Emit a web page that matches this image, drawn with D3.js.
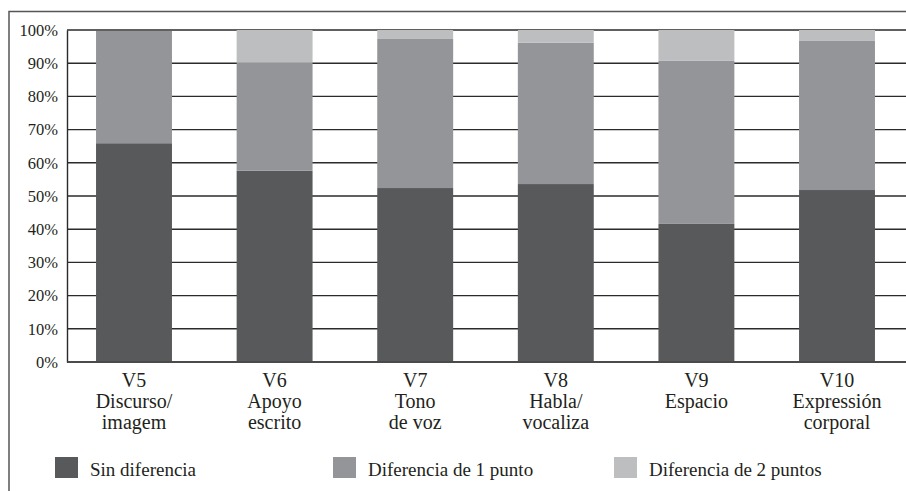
<!DOCTYPE html>
<meta charset="utf-8">
<style>
body { margin: 0; background: #fff; }
svg text { fill: #231f20; font-family: "Liberation Serif", "DejaVu Serif", serif; }
.grid line { stroke: #2b2b2b; stroke-width: 1.4px; }
</style>
<body>
<script src="https://d3js.org/d3.v7.min.js"></script>
<script>

var codes = ["V5", "V6", "V7", "V8", "V9", "V10"]
var names = [["Discurso/", "imagem"], ["Apoyo", "escrito"], ["Tono", "de voz"],
             ["Habla/", "vocaliza"], ["Espacio"], ["Expressión", "corporal"]]
var sinDif = [65.9, 57.6, 52.4, 53.6, 41.6, 51.8]
var dif1 = [33.8, 32.6, 44.9, 42.6, 49.1, 44.9]
var dif2 = [0, 9.8, 2.7, 3.8, 9.3, 3.3]
var seriesNames = ["Sin diferencia", "Diferencia de 1 punto", "Diferencia de 2 puntos"]
var colors = ["#58595b", "#939598", "#bcbec0"]
var yTicks = [0, 10, 20, 30, 40, 50, 60, 70, 80, 90, 100]

var width = 906, height = 491

var svg = d3.select("body").append("svg")
    .attr("width", width)
    .attr("height", height)

// outer frame (top and left only)
svg.append("path")
    .attr("d", "M9,491V11.5H906")
    .attr("fill", "none")
    .attr("stroke", "#555")
    .attr("stroke-width", 1.5)

var x = d3.scaleBand().domain(codes).range([63.7, 907.3]).paddingInner(0.46).paddingOuter(0.23)
var y = d3.scaleLinear().domain([0, 100]).range([362, 30])

// gridlines
svg.append("g").attr("class", "grid")
  .selectAll("line")
  .data(yTicks)
  .enter().append("line")
    .attr("x1", 67).attr("x2", width)
    .attr("y1", d => y(d)).attr("y2", d => y(d))

var rows = codes.map(function(c, i) {
  return {code: c, s0: sinDif[i], s1: dif1[i], s2: dif2[i]}
})
var stack = d3.stack().keys(["s0", "s1", "s2"])(rows)

svg.append("g").selectAll("g")
  .data(stack)
  .enter().append("g")
    .attr("fill", (d, i) => colors[i])
  .selectAll("rect")
  .data(d => d)
  .enter().append("rect")
    .attr("x", d => x(d.data.code))
    .attr("width", x.bandwidth())
    .attr("y", d => y(d[1]))
    .attr("height", d => y(d[0]) - y(d[1]))

// y axis
var yAxis = svg.append("g")
    .attr("transform", "translate(67,0)")
    .call(d3.axisLeft(y).tickValues(yTicks).tickSize(0).tickPadding(9).tickFormat(d => d + "%"))
yAxis.attr("font-family", null).attr("font-size", null)
yAxis.selectAll("text").style("font-size", "16.5px")
yAxis.select(".domain").attr("stroke", "#2b2b2b").attr("stroke-width", 1.4)

// x axis line
svg.append("line")
    .attr("x1", 67).attr("x2", width)
    .attr("y1", y(0)).attr("y2", y(0))
    .attr("stroke", "#444").attr("stroke-width", 1.6)

// category labels
var cat = svg.append("g").selectAll("text")
  .data(codes)
  .enter().append("text")
    .style("font-size", "20px")
    .attr("text-anchor", "middle")
    .attr("x", d => x(d) + x.bandwidth() / 2)
    .attr("y", 387)
cat.each(function(d, i) {
  var t = d3.select(this)
  var lines = [d].concat(names[i])
  lines.forEach(function(l, j) {
    t.append("tspan")
      .attr("x", x(d) + x.bandwidth() / 2)
      .attr("y", 387 + j * 21)
      .text(l)
  })
})

// legend
var legX = [55, 333, 614]
var leg = svg.append("g")
  .selectAll("g")
  .data(seriesNames)
  .enter().append("g")
    .attr("transform", (d, i) => "translate(" + legX[i] + ",457)")
leg.append("rect")
    .attr("width", 23).attr("height", 21)
    .attr("fill", (d, i) => colors[i])
leg.append("text")
    .style("font-size", "19px")
    .attr("x", 35).attr("y", 19)
    .text(d => d)
</script>
